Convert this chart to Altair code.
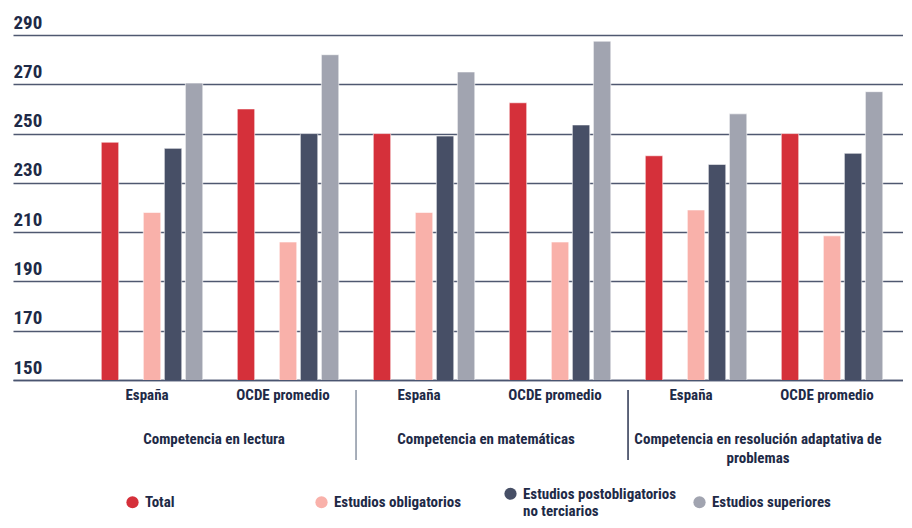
import altair as alt
import pandas as pd

FONT = "Liberation Sans Narrow, Roboto Condensed, Arial Narrow, Roboto, sans-serif"
TXT = "#1e2a47"

competencias = ["Competencia en lectura", "Competencia en matemáticas",
                "Competencia en resolución adaptativa de problemas"]
competencia_etiquetas = ["Competencia en lectura", "Competencia en matemáticas",
                         "Competencia en resolución adaptativa de\nproblemas"]
regiones = ["España", "OCDE promedio"]
series = ["Total", "Estudios obligatorios", "Estudios postobligatorios no terciarios",
          "Estudios superiores"]
colores = ["#d5303a", "#f9b1aa", "#474f66", "#a1a4b0"]

# values per group: lectura-España, lectura-OCDE, mate-España, mate-OCDE, resol-España, resol-OCDE
total = [246.5, 260.0, 250.0, 262.5, 241.0, 250.0]
obligatorios = [218.0, 206.0, 218.0, 206.0, 219.0, 208.5]
postobligatorios = [244.0, 250.0, 249.0, 253.5, 237.5, 242.0]
superiores = [270.5, 282.0, 275.0, 287.5, 258.0, 267.0]
y_ticks = [150, 170, 190, 210, 230, 250, 270, 290]

grupos = [f"{c}|{r}" for c in competencias for r in regiones]
rows = []
for s, vals in zip(series, [total, obligatorios, postobligatorios, superiores]):
    for g, v in zip(grupos, vals):
        rows.append({"grupo": g, "serie": s, "valor": v})
df = pd.DataFrame(rows)

# slot order within each group (an empty slot follows "Total", as in the original)
slots = [series[0], "_vacío", series[1], series[2], series[3]]

xscale = alt.Scale(domain=grupos, paddingInner=0, paddingOuter=0.272, align=0.96)
xaxis = alt.Axis(title=None, labelExpr="split(datum.value, '|')[1]",
                 labelAngle=0, labelPadding=7, labelBaseline="top", labelOffset=-5,
                 labelFontSize=15, labelFont=FONT, labelFontWeight="bold",
                 labelColor=TXT, ticks=False, domain=True, labelOverlap=False,
                 domainColor="#4a5570", domainWidth=1.6, grid=False)

long_label = "Estudios postobligatorios no terciarios"

bars = alt.Chart(df).mark_bar(stroke="white", strokeWidth=0.6, clip=True).encode(
    x=alt.X("grupo:N", scale=xscale, sort=grupos, axis=xaxis),
    xOffset=alt.XOffset("serie:N", scale=alt.Scale(domain=slots, paddingInner=0.17,
                                                   paddingOuter=0.82)),
    y=alt.Y("valor:Q", scale=alt.Scale(domain=[150, 290], nice=False, zero=False),
            axis=alt.Axis(values=y_ticks, title=None, grid=True, gridColor="#4f5870",
                          gridWidth=1.5, domain=False, ticks=False, labelAlign="left",
                          labelBaseline="alphabetic", labelOffset=-7, labelPadding=0,
                          labelFontSize=19, labelFont=FONT, labelFontWeight="bold",
                          labelColor=TXT)),
    color=alt.Color("serie:N", scale=alt.Scale(domain=series, range=colores),
                    legend=alt.Legend(title=None, orient="none", legendX=112, legendY=451,
                                      direction="horizontal", columns=4, gridAlign="all",
                                      columnPadding=15, symbolType="circle",
                                      symbolSize=150, symbolStrokeWidth=0,
                                      labelFontSize=15, labelFont=FONT,
                                      labelFontWeight="bold", labelColor=TXT,
                                      labelOffset=5, padding=0, labelBaseline="middle",
                                      labelExpr=f"datum.label == '{long_label}' ? ['Estudios postobligatorios', 'no terciarios'] : datum.label")),
)

comp_df = pd.DataFrame({
    "grupo": [f"{c}|{regiones[1]}" for c in competencias],
    "etiqueta": competencia_etiquetas,
})
comp_text = alt.Chart(comp_df).mark_text(
    baseline="top", align="center", fontSize=15, font=FONT, fontWeight="bold",
    color=TXT, lineBreak="\n", lineHeight=19, dx=-6,
).encode(
    x=alt.X("grupo:N", bandPosition=0, scale=xscale, sort=grupos, axis=xaxis),
    y=alt.value(397),
    text="etiqueta:N",
)

sep_df = pd.DataFrame({"grupo": [f"{c}|{regiones[0]}" for c in competencias[1:]]})
seps = alt.Chart(sep_df).mark_rule(strokeWidth=1.5).encode(
    x=alt.X("grupo:N", bandPosition=0, scale=xscale, sort=grupos, axis=xaxis),
    y=alt.value(355),
    y2=alt.value(425),
    color=alt.condition(alt.datum.grupo == grupos[2], alt.value("#8a93a3"),
                        alt.value("#2a3350")),
)

chart = alt.layer(bars, comp_text, seps).properties(
    width=890, height=345, autosize="none",
    padding={"left": 5, "top": 27, "right": 0, "bottom": 140},
    background="white",
).configure_view(stroke=None)

chart.save("out.html", embed_options={"renderer": "svg", "actions": False})
